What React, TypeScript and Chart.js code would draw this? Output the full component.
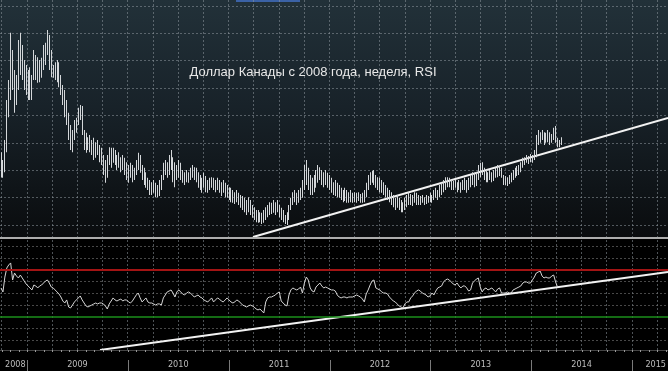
import { useEffect, useRef } from "react";
import { Chart, registerables } from "chart.js";

Chart.register(...registerables);

// ---------- data ----------
const TITLE = "Доллар Канады с 2008 года, неделя, RSI";
const YEAR_LABELS = ["2008", "2009", "2010", "2011", "2012", "2013", "2014", "2015"];
const FIRST_WEEK = 2008.742; // decimal year of the first weekly bar
const WEEK = 7 / 365.25;

const HIGH = [
  1.086, 1.072, 1.108, 1.180, 1.216, 1.301, 1.270, 1.234, 1.225, 1.288,
  1.301, 1.279, 1.252, 1.243, 1.234, 1.239, 1.225, 1.270, 1.261, 1.257,
  1.252, 1.256, 1.279, 1.283, 1.306, 1.297, 1.270, 1.243, 1.248, 1.252,
  1.248, 1.225, 1.207, 1.198, 1.180, 1.157, 1.135, 1.126, 1.144, 1.148,
  1.166, 1.171, 1.169, 1.126, 1.121, 1.113, 1.117, 1.108, 1.112, 1.104,
  1.108, 1.099, 1.094, 1.081, 1.072, 1.081, 1.095, 1.094, 1.094, 1.090,
  1.081, 1.086, 1.077, 1.081, 1.076, 1.068, 1.063, 1.067, 1.063, 1.058,
  1.072, 1.085, 1.081, 1.063, 1.058, 1.050, 1.040, 1.036, 1.032, 1.036,
  1.031, 1.027, 1.036, 1.045, 1.067, 1.072, 1.068, 1.081, 1.090, 1.077,
  1.068, 1.063, 1.072, 1.067, 1.054, 1.050, 1.054, 1.050, 1.058, 1.063,
  1.059, 1.058, 1.050, 1.045, 1.040, 1.049, 1.043, 1.036, 1.040, 1.041,
  1.040, 1.036, 1.040, 1.036, 1.032, 1.036, 1.031, 1.027, 1.023, 1.022,
  1.018, 1.014, 1.018, 1.013, 1.009, 1.007, 1.004, 1.000, 1.005, 1.000,
  0.991, 0.987, 0.982, 0.982, 0.978, 0.977, 0.982, 0.987, 0.991, 0.996,
  0.995, 1.000, 0.996, 1.000, 0.991, 0.986, 0.982, 0.973, 0.978, 0.991,
  1.004, 1.014, 1.018, 1.013, 1.018, 1.022, 1.036, 1.063, 1.072, 1.058,
  1.045, 1.040, 1.045, 1.054, 1.063, 1.059, 1.054, 1.050, 1.054, 1.049,
  1.045, 1.040, 1.032, 1.036, 1.031, 1.027, 1.022, 1.018, 1.022, 1.018,
  1.014, 1.018, 1.013, 1.014, 1.013, 1.014, 1.011, 1.013, 1.018, 1.031,
  1.045, 1.050, 1.052, 1.054, 1.045, 1.041, 1.040, 1.036, 1.032, 1.027,
  1.022, 1.018, 1.014, 1.009, 1.004, 1.009, 1.004, 1.000, 0.996, 1.004,
  1.009, 1.014, 1.011, 1.009, 1.014, 1.013, 1.009, 1.007, 1.009, 1.005,
  1.009, 1.007, 1.013, 1.009, 1.018, 1.022, 1.018, 1.027, 1.031, 1.036,
  1.041, 1.041, 1.040, 1.036, 1.034, 1.036, 1.032, 1.036, 1.032, 1.036,
  1.040, 1.036, 1.040, 1.045, 1.050, 1.049, 1.050, 1.063, 1.067, 1.068,
  1.058, 1.054, 1.050, 1.054, 1.050, 1.054, 1.058, 1.063, 1.061, 1.058,
  1.045, 1.043, 1.041, 1.045, 1.049, 1.054, 1.058, 1.061, 1.063, 1.068,
  1.076, 1.077, 1.081, 1.079, 1.083, 1.081, 1.090, 1.117, 1.126, 1.122,
  1.126, 1.122, 1.121, 1.126, 1.122, 1.119, 1.130, 1.133, 1.112, 1.108, 1.113,
];

const LOW = [
  1.041, 1.040, 1.050, 1.086, 1.149, 1.180, 1.198, 1.157, 1.171, 1.198,
  1.225, 1.216, 1.198, 1.189, 1.180, 1.180, 1.180, 1.216, 1.216, 1.211,
  1.212, 1.220, 1.234, 1.243, 1.261, 1.234, 1.221, 1.220, 1.216, 1.212,
  1.203, 1.189, 1.171, 1.149, 1.135, 1.108, 1.090, 1.086, 1.108, 1.121,
  1.135, 1.144, 1.117, 1.090, 1.085, 1.090, 1.086, 1.081, 1.072, 1.076,
  1.081, 1.068, 1.063, 1.045, 1.031, 1.040, 1.063, 1.058, 1.067, 1.063,
  1.054, 1.058, 1.050, 1.054, 1.045, 1.036, 1.031, 1.040, 1.032, 1.036,
  1.045, 1.054, 1.049, 1.036, 1.027, 1.022, 1.018, 1.009, 1.009, 1.013,
  1.005, 1.005, 1.007, 1.018, 1.036, 1.045, 1.040, 1.045, 1.054, 1.032,
  1.023, 1.036, 1.040, 1.036, 1.031, 1.027, 1.032, 1.031, 1.036, 1.040,
  1.036, 1.032, 1.022, 1.018, 1.013, 1.022, 1.014, 1.013, 1.018, 1.022,
  1.018, 1.014, 1.018, 1.013, 1.007, 1.013, 1.005, 1.004, 1.000, 0.996,
  0.995, 0.993, 0.996, 0.991, 0.986, 0.982, 0.978, 0.973, 0.978, 0.973,
  0.968, 0.964, 0.960, 0.959, 0.960, 0.957, 0.959, 0.964, 0.969, 0.973,
  0.975, 0.977, 0.973, 0.978, 0.969, 0.964, 0.960, 0.957, 0.955, 0.964,
  0.982, 0.991, 0.996, 0.991, 0.995, 1.000, 1.004, 1.018, 1.027, 1.018,
  1.009, 1.009, 1.014, 1.022, 1.031, 1.036, 1.027, 1.023, 1.027, 1.022,
  1.018, 1.013, 1.009, 1.007, 1.005, 1.004, 1.000, 0.996, 0.998, 0.995,
  0.995, 0.996, 0.995, 0.996, 0.995, 0.998, 0.995, 0.995, 0.996, 1.005,
  1.018, 1.027, 1.031, 1.027, 1.022, 1.018, 1.014, 1.013, 1.009, 1.005,
  1.000, 0.996, 0.991, 0.987, 0.982, 0.986, 0.982, 0.978, 0.978, 0.982,
  0.987, 0.991, 0.991, 0.989, 0.995, 0.991, 0.991, 0.991, 0.995, 0.991,
  0.993, 0.995, 0.996, 0.995, 1.000, 1.004, 1.000, 1.005, 1.009, 1.014,
  1.018, 1.023, 1.023, 1.018, 1.018, 1.022, 1.014, 1.018, 1.013, 1.018,
  1.018, 1.013, 1.018, 1.023, 1.027, 1.023, 1.025, 1.036, 1.041, 1.045,
  1.036, 1.032, 1.032, 1.036, 1.032, 1.034, 1.040, 1.041, 1.043, 1.040,
  1.027, 1.027, 1.025, 1.029, 1.032, 1.036, 1.040, 1.043, 1.045, 1.050,
  1.058, 1.063, 1.067, 1.065, 1.068, 1.067, 1.072, 1.077, 1.099, 1.103,
  1.108, 1.099, 1.103, 1.104, 1.099, 1.103, 1.108, 1.103, 1.095, 1.095, 1.099,
];

const RSI = [
  54.7, 51.3, 64.0, 71.7, 74.3, 76.0, 61.5, 67.4, 64.9, 63.2,
  65.7, 63.2, 60.6, 58.1, 56.4, 54.7, 53.0, 57.2, 56.4, 54.7,
  56.4, 57.2, 58.9, 60.6, 61.5, 58.9, 55.5, 54.7, 53.0, 51.3,
  49.6, 47.0, 43.6, 41.9, 44.5, 38.5, 37.7, 40.2, 42.8, 44.5,
  46.2, 47.9, 44.5, 41.9, 39.4, 38.5, 39.4, 40.2, 41.1, 41.9,
  41.1, 41.9, 41.9, 41.1, 39.4, 36.8, 41.1, 43.6, 46.2, 44.5,
  43.6, 44.5, 45.3, 43.6, 44.5, 44.5, 42.8, 41.9, 43.6, 46.2,
  48.7, 50.4, 46.2, 42.8, 44.5, 46.2, 42.8, 41.9, 41.9, 41.1,
  40.2, 41.1, 41.1, 40.2, 46.2, 48.7, 51.3, 52.1, 53.0, 50.4,
  47.0, 51.3, 53.0, 51.3, 49.6, 48.7, 50.4, 51.3, 50.4, 48.7,
  47.0, 47.9, 48.7, 47.0, 46.2, 44.5, 43.6, 42.8, 44.5, 46.2,
  42.8, 44.5, 46.2, 45.3, 43.6, 42.8, 44.5, 46.2, 44.5, 42.8,
  41.9, 42.8, 44.5, 43.6, 41.9, 40.2, 39.4, 38.5, 39.4, 40.2,
  39.4, 38.5, 36.8, 36.0, 36.8, 35.1, 33.4, 42.8, 46.2, 47.0,
  47.0, 47.9, 48.7, 50.4, 51.3, 43.6, 41.9, 40.2, 39.4, 48.7,
  53.0, 54.7, 53.8, 53.0, 53.8, 55.5, 50.4, 58.9, 64.0, 61.5,
  54.7, 52.1, 51.3, 55.5, 57.2, 58.9, 56.4, 54.7, 55.5, 54.7,
  53.8, 53.0, 53.0, 52.1, 48.7, 47.0, 46.2, 47.0, 47.0, 46.2,
  47.0, 47.0, 47.0, 47.9, 48.7, 47.9, 47.0, 45.3, 42.8, 49.6,
  53.0, 57.2, 60.6, 61.5, 54.7, 53.8, 53.0, 51.3, 50.4, 50.4,
  49.6, 47.0, 45.3, 43.6, 42.8, 41.1, 39.4, 38.5, 37.7, 41.1,
  42.8, 42.8, 46.2, 47.9, 50.4, 52.1, 53.0, 52.1, 50.4, 49.6,
  48.7, 47.0, 47.9, 50.4, 48.7, 52.1, 54.7, 55.5, 56.4, 59.8,
  61.5, 62.3, 61.5, 59.8, 58.1, 57.2, 58.9, 56.4, 54.7, 56.4,
  56.4, 54.7, 52.1, 53.0, 58.9, 60.6, 62.3, 63.2, 55.5, 51.3,
  53.8, 54.7, 53.0, 53.8, 54.7, 53.0, 51.3, 53.8, 54.7, 50.4,
  50.4, 50.4, 51.3, 50.4, 50.4, 53.0, 53.8, 54.7, 55.5, 56.4,
  58.9, 59.8, 59.8, 58.9, 58.9, 61.5, 64.0, 67.4, 68.3, 69.1,
  64.9, 63.2, 64.0, 63.2, 63.2, 64.9, 65.7, 59.8, 55.5,
];

const PRICE_TREND = [
  { x: 2011.241, y: 0.9334 },
  { x: 2015.357, y: 1.1476 },
];
const RSI_TREND = [
  { x: 2009.724, y: 1.9 },
  { x: 2015.357, y: 68.3 },
];
const RSI_OVERBOUGHT = 70;
const RSI_OVERSOLD = 30;

// ---------- layout (not data) ----------
const W = 668;
const H = 371;
const X_MIN = 2008.732;
const X_MAX = 2015.357;
const PRICE_MAX = 1.36;
const PRICE_MIN = 0.73;
const RSI_MAX = 299.8;
const RSI_MIN = 1.9;
const SEP_Y = 237;
const AXIS_Y = 350;

const weekX = (i: number) => FIRST_WEEK + i * WEEK;

const quarterTicks: { value: number }[] = [];
for (let y = 2008; y <= 2015; y++) {
  for (let q = 0; q < 4; q++) {
    const v = y + q / 4;
    if (v > X_MIN && v < X_MAX) quarterTicks.push({ value: v });
  }
}
const priceGrid: { value: number }[] = [];
for (let k = 0; k <= 8; k++) priceGrid.push({ value: 1.3492 - 0.04932 * k });
const rsiGrid = [10, 20, 40, 50, 60, 80, 90].map((v) => ({ value: v }));

const panelPlugin = {
  id: "panels",
  beforeDraw(chart: any) {
    const { ctx } = chart;
    ctx.save();
    ctx.fillStyle = "#000000";
    ctx.fillRect(0, 0, W, H);
    const g = ctx.createLinearGradient(0, 0, 0, SEP_Y);
    g.addColorStop(0, "#223139");
    g.addColorStop(0.45, "#182229");
    g.addColorStop(1, "#0a0c0e");
    ctx.fillStyle = g;
    ctx.fillRect(0, 0, W, SEP_Y);
    ctx.fillStyle = "#3b62a6";
    ctx.fillRect(236, 0, 64, 2);
    ctx.restore();
  },
  beforeDatasetDraw(chart: any, args: any) {
    // snap the 1px weekly bars to whole device pixels so they stay crisp
    if (args.index !== 0) return;
    args.meta.data.forEach((el: any) => {
      el.x = Math.floor(el.x) + 0.5;
    });
  },
  afterDatasetsDraw(chart: any) {
    const { ctx } = chart;
    const xs = chart.scales.x;
    ctx.save();
    // separator between panels
    ctx.fillStyle = "#adadad";
    ctx.fillRect(0, SEP_Y, W, 2);
    // bottom axis line with monthly ticks
    ctx.fillStyle = "#444444";
    ctx.fillRect(0, AXIS_Y, W, 1);
    ctx.fillStyle = "#9a9a9a";
    for (let y = 2008; y <= 2015; y++) {
      for (let m = 0; m < 12; m++) {
        const v = y + m / 12;
        if (v < X_MIN || v > X_MAX) continue;
        const px = Math.round(xs.getPixelForValue(v));
        ctx.fillRect(px, AXIS_Y, 1, 2);
      }
    }
    // year separators and labels
    ctx.fillStyle = "#7a7a7a";
    YEAR_LABELS.forEach((lab) => {
      const yr = Number(lab);
      if (yr > X_MIN && yr < X_MAX) {
        const px = Math.round(xs.getPixelForValue(yr));
        ctx.fillRect(px, 360, 1, 11);
      }
    });
    ctx.font = '9px "Liberation Sans Narrow", "DejaVu Sans Condensed", "Liberation Sans", sans-serif';
    ctx.fillStyle = "#bdbdbd";
    ctx.textAlign = "center";
    ctx.textBaseline = "middle";
    YEAR_LABELS.forEach((lab) => {
      const yr = Number(lab);
      const w = ctx.measureText(lab).width;
      let px = xs.getPixelForValue(yr + 0.5);
      px = Math.max(5 + w / 2, Math.min(W - 2 - w / 2, px));
      ctx.fillText(lab, px, 365);
    });
    // title
    ctx.font = '13px "Liberation Sans", Arial, sans-serif';
    ctx.fillStyle = "#e8e8e8";
    ctx.textAlign = "center";
    ctx.textBaseline = "alphabetic";
    ctx.fillText(TITLE, 313, 76);
    ctx.restore();
  },
};

export default function App() {
  const ref = useRef<HTMLCanvasElement>(null);

  useEffect(() => {
    document.body.style.margin = "0";
    document.body.style.background = "#000";
    const canvas = ref.current;
    if (!canvas) return;

    const bars = HIGH.map((h, i) => ({ x: weekX(i), y: [LOW[i], h] }));
    const rsi = RSI.map((v, i) => ({ x: weekX(i), y: v }));

    const chart = new Chart(canvas, {
      type: "bar",
      data: {
        datasets: [
          {
            type: "bar",
            label: "USD/CAD",
            data: bars as any,
            backgroundColor: "#d4d7da",
            borderWidth: 0,
            barThickness: 1,
            inflateAmount: 0,
            grouped: false,
            xAxisID: "x",
            yAxisID: "y",
          } as any,
          {
            type: "line",
            label: "price trend",
            data: PRICE_TREND,
            borderColor: "#f2f2f2",
            borderWidth: 2,
            pointRadius: 0,
            xAxisID: "x",
            yAxisID: "y",
          },
          {
            type: "line",
            label: "overbought",
            data: [
              { x: X_MIN, y: RSI_OVERBOUGHT },
              { x: X_MAX, y: RSI_OVERBOUGHT },
            ],
            borderColor: "#a31414",
            borderWidth: 2,
            pointRadius: 0,
            xAxisID: "x",
            yAxisID: "y2",
          },
          {
            type: "line",
            label: "oversold",
            data: [
              { x: X_MIN, y: RSI_OVERSOLD },
              { x: X_MAX, y: RSI_OVERSOLD },
            ],
            borderColor: "#1b8f1b",
            borderWidth: 1.5,
            pointRadius: 0,
            xAxisID: "x",
            yAxisID: "y2",
          },
          {
            type: "line",
            label: "RSI",
            data: rsi,
            borderColor: "#d6d6d6",
            borderWidth: 1,
            pointRadius: 0,
            tension: 0,
            xAxisID: "x",
            yAxisID: "y2",
          },
          {
            type: "line",
            label: "RSI trend",
            data: RSI_TREND,
            borderColor: "#f2f2f2",
            borderWidth: 2,
            pointRadius: 0,
            xAxisID: "x",
            yAxisID: "y2",
          },
        ],
      },
      options: {
        animation: false,
        responsive: false,
        devicePixelRatio: 1,
        layout: { padding: { left: 0, right: 0, top: 0, bottom: H - AXIS_Y } },
        plugins: {
          legend: { display: false },
          tooltip: { enabled: false },
          title: { display: false },
        },
        scales: {
          x: {
            type: "linear",
            min: X_MIN,
            max: X_MAX,
            offset: false,
            ticks: { display: false },
            grid: {
              color: "rgba(140,150,156,0.55)",
              lineWidth: 1,
              drawTicks: false,
              offset: false,
            },
            border: { display: false, dash: [2, 2] },
            afterBuildTicks: (s: any) => {
              s.ticks = quarterTicks.map((t) => ({ ...t }));
            },
            afterFit: (s: any) => {
              s.height = 0;
            },
          },
          y: {
            type: "linear",
            position: "left",
            min: PRICE_MIN,
            max: PRICE_MAX,
            ticks: { display: false },
            grid: { color: "rgba(140,150,156,0.55)", lineWidth: 1, drawTicks: false },
            border: { display: false, dash: [2, 2] },
            afterBuildTicks: (s: any) => {
              s.ticks = priceGrid.map((t) => ({ ...t }));
            },
            afterFit: (s: any) => {
              s.width = 0;
            },
          },
          y2: {
            type: "linear",
            position: "left",
            min: RSI_MIN,
            max: RSI_MAX,
            ticks: { display: false },
            grid: { color: "rgba(120,120,120,0.6)", lineWidth: 1, drawTicks: false },
            border: { display: false, dash: [2, 2] },
            afterBuildTicks: (s: any) => {
              s.ticks = rsiGrid.map((t) => ({ ...t }));
            },
            afterFit: (s: any) => {
              s.width = 0;
            },
          },
        },
      } as any,
      plugins: [panelPlugin],
    });

    return () => chart.destroy();
  }, []);

  return (
    <canvas
      ref={ref}
      width={W}
      height={H}
      style={{ display: "block", width: W, height: H }}
    />
  );
}
